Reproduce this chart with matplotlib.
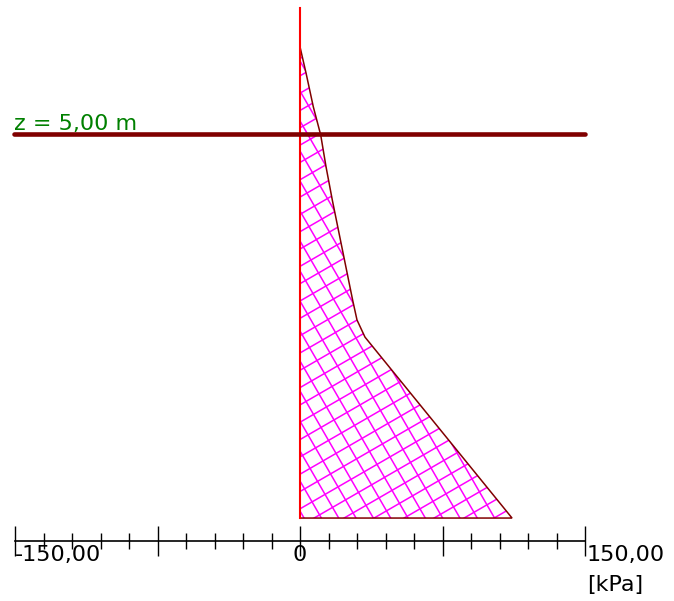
import numpy as np
import matplotlib
matplotlib.use("Agg")
import matplotlib.pyplot as plt
from matplotlib.patches import Polygon
from matplotlib.collections import LineCollection
from matplotlib.transforms import IdentityTransform

# pressure diagram: depth [m], pressure [kPa]
depth = [1.54, 2.59, 3.92, 5.04, 6.30, 7.62, 11.59, 12.38, 13.06, 20.24]
pressure = [0.0, 3.2, 7.0, 10.9, 13.7, 17.0, 27.7, 30.0, 34.2, 111.6]
z_wall_top = 0.0
z_bottom = 20.24
z_level = 5.00
level_label = "z = 5,00 m"
x_ticks_major = [-150, -75, 0, 75, 150]
x_ticks_minor = [-135, -120, -105, -90, -60, -45, -30, -15,
                 15, 30, 45, 60, 90, 105, 120, 135]
tick_labels = {-150: "-150,00", 0: "0", 150: "150,00"}
unit_label = "[kPa]"

W, H = 674, 601
px_kpa = 1.9      # pixels per kPa
px_m = 25.2       # pixels per m
x0_px, z0_px = 300, 8

fig = plt.figure(figsize=(W / 100, H / 100), dpi=100)
ax = fig.add_axes([0, 0, 1, 1])
ax.set_xlim(-x0_px / px_kpa, (W - x0_px) / px_kpa)
ax.set_ylim((H - z0_px) / px_m, -z0_px / px_m)
for s in ["left", "right", "top"]:
    ax.spines[s].set_visible(False)
ax.yaxis.set_visible(False)

# horizontal pressure axis
z_axis = (541 - z0_px) / px_m
ax.spines["bottom"].set_position(("data", z_axis))
ax.spines["bottom"].set_bounds(-150, 150)
ax.spines["bottom"].set_linewidth(1.2)
ax.set_xticks(x_ticks_major)
ax.set_xticks(x_ticks_minor, minor=True)
ax.tick_params(axis="x", which="major", direction="inout", length=22, width=1.0,
               labelbottom=False)
ax.tick_params(axis="x", which="minor", direction="inout", length=11, width=1.0)

for v, lab in tick_labels.items():
    ha = "center" if v == 0 else "left"
    ax.text(v + (1 if v == 150 else 0), (545 - z0_px) / px_m, lab, ha=ha, va="top",
            fontsize=16, color="black")
ax.text(151, (575 - z0_px) / px_m, unit_label, ha="left", va="top",
        fontsize=16, color="black")

# diagram polygon
verts = list(zip(pressure, depth)) + [(0, z_bottom), (0, depth[0])]
poly = Polygon(verts, closed=True, facecolor="none", edgecolor="#800000",
               linewidth=1.1, zorder=3)
ax.add_patch(poly)

# rotated cross hatching in pixel space, clipped to the polygon
step = 15.0
segs = []
L = 2000
for ang in (30, 120):
    a = np.deg2rad(ang)
    d = np.array([np.cos(a), np.sin(a)])
    n = np.array([-d[1], d[0]])
    for k in np.arange(-60, 60):
        c = np.array([300, 300]) + n * k * step
        segs.append([c - d * L, c + d * L])
hatch = LineCollection(segs, colors="#ff00ff", linewidths=1.1,
                       transform=IdentityTransform(), zorder=2)
ax.add_collection(hatch)
hatch.set_clip_path(poly)

# wall line at x = 0
ax.plot([0, 0], [z_wall_top, z_bottom], color="#ff0000", linewidth=1.5, zorder=4)

# level line
ax.plot([-150.5, 150], [z_level, z_level], color="#800000", linewidth=3.3,
        solid_capstyle="round", zorder=5)
ax.text(-150.5, z_level - 0.17, level_label, color="#008000", fontsize=16,
        ha="left", va="baseline", zorder=6)

fig.savefig("out.png", dpi=100)
